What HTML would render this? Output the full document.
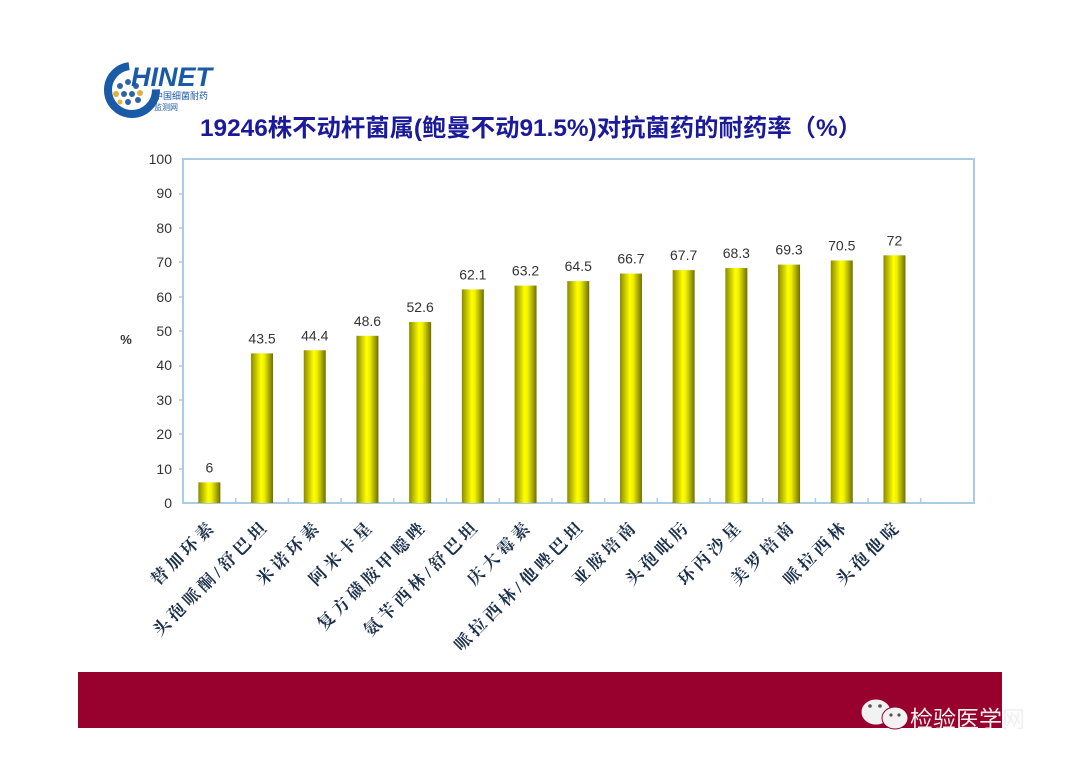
<!DOCTYPE html>
<html><head><meta charset="utf-8"><style>
html,body{margin:0;padding:0;background:#fff;}
svg{display:block;}
</style></head><body>
<svg width="1080" height="764" viewBox="0 0 1080 764" xmlns="http://www.w3.org/2000/svg">
<defs>
<linearGradient id="bg" x1="0" x2="1" y1="0" y2="0">
<stop offset="0" stop-color="#8a8a00"/>
<stop offset="0.45" stop-color="#ffff00"/>
<stop offset="0.6" stop-color="#f0f000"/>
<stop offset="1" stop-color="#6e6e00"/>
</linearGradient>
</defs>
<rect width="1080" height="764" fill="#fff"/>
<circle cx="132" cy="90" r="24" fill="none" stroke="#1b5aa6" stroke-width="8" stroke-dasharray="110 40"/>
<g fill="#2e63a8"><circle cx="120" cy="86" r="3"/><circle cx="128" cy="82" r="3"/><circle cx="136" cy="86" r="3"/><circle cx="124" cy="94" r="3"/><circle cx="132" cy="94" r="3"/><circle cx="128" cy="102" r="3"/><circle cx="138" cy="100" r="3"/></g>
<g fill="#e0b040"><circle cx="116" cy="94" r="3"/><circle cx="140" cy="93" r="3"/><circle cx="120" cy="102" r="2.5"/></g>
<text x="131" y="86" font-family="Liberation Sans, sans-serif" font-size="27" font-weight="bold" font-style="italic" fill="#1b5aa6">HINET</text>
<text x="154" y="99" font-family="Liberation Sans, 'Noto Sans CJK SC', sans-serif" font-size="9" fill="#1b5aa6">中国细菌耐药</text>
<text x="154" y="110" font-family="Liberation Sans, 'Noto Sans CJK SC', sans-serif" font-size="8" fill="#1b5aa6">监测网</text>
<text x="531" y="136" text-anchor="middle" font-family="Liberation Sans, 'Noto Sans CJK SC', sans-serif" font-size="24" font-weight="bold" fill="#1a1a9a" textLength="662" lengthAdjust="spacingAndGlyphs">19246株不动杆菌属(鲍曼不动91.5%)对抗菌药的耐药率（%）</text>
<rect x="183" y="159" width="791" height="344" fill="none" stroke="#a8cce4" stroke-width="2"/>
<g font-family="Liberation Sans, sans-serif" font-size="14" fill="#333" text-anchor="end">
<text x="172" y="508">0</text><text x="172" y="474">10</text><text x="172" y="439">20</text><text x="172" y="405">30</text><text x="172" y="370">40</text><text x="172" y="336">50</text><text x="172" y="302">60</text><text x="172" y="267">70</text><text x="172" y="233">80</text><text x="172" y="198">90</text><text x="172" y="164">100</text>
</g>
<g stroke="#a8cce4" stroke-width="1.5">
<line x1="179" y1="469" x2="183" y2="469"/><line x1="179" y1="434" x2="183" y2="434"/><line x1="179" y1="400" x2="183" y2="400"/><line x1="179" y1="366" x2="183" y2="366"/><line x1="179" y1="331" x2="183" y2="331"/><line x1="179" y1="297" x2="183" y2="297"/><line x1="179" y1="262" x2="183" y2="262"/><line x1="179" y1="228" x2="183" y2="228"/><line x1="179" y1="194" x2="183" y2="194"/>
</g>
<text x="126" y="344" text-anchor="middle" font-family="Liberation Sans, sans-serif" font-size="13" font-weight="bold" fill="#333">%</text>
<g id="bars"></g>
<g id="ticks" stroke="#a8cce4" stroke-width="1.5"></g>
<g id="vals" font-family="Liberation Sans, sans-serif" font-size="14" fill="#333" text-anchor="middle"></g>
<g id="labs" font-family="Liberation Serif, 'Noto Serif CJK SC', serif" font-size="17" font-weight="bold" fill="#1a2f4a" text-anchor="end" letter-spacing="4"></g>
<rect x="78" y="672" width="924" height="56" fill="#98002e"/>
<g fill="#f2f2f2" stroke="#98002e" stroke-width="1">
<ellipse cx="876" cy="712" rx="15" ry="13"/>
<ellipse cx="895" cy="718" rx="13" ry="11"/>
</g>
<g fill="#555"><circle cx="870" cy="706" r="1.8"/><circle cx="880" cy="706" r="1.8"/><circle cx="891" cy="715" r="1.6"/><circle cx="899" cy="715" r="1.6"/></g>
<text x="910" y="727" font-family="Liberation Sans, 'Noto Sans CJK SC', sans-serif" font-size="23" fill="#f0f0f0">检验医学网</text>
<script>
var v=[6,43.5,44.4,48.6,52.6,62.1,63.2,64.5,66.7,67.7,68.3,69.3,70.5,72];
var n=["替加环素","头孢哌酮/舒巴坦","米诺环素","阿米卡星","复方磺胺甲噁唑","氨苄西林/舒巴坦","庆大霉素","哌拉西林/他唑巴坦","亚胺培南","头孢吡肟","环丙沙星","美罗培南","哌拉西林","头孢他啶"];
var ns="http://www.w3.org/2000/svg",w=52.7,x0=183,y0=503,s=3.44;
function el(t,a,p,txt){var e=document.createElementNS(ns,t);for(var k in a)e.setAttribute(k,a[k]);if(txt)e.textContent=txt;document.getElementById(p).appendChild(e);}
for(var i=0;i<14;i++){var c=x0+w*(i+0.5),h=v[i]*s;
el("rect",{x:c-11,y:y0-h,width:22,height:h,fill:"url(#bg)"},"bars");
el("text",{x:c,y:y0-h-10},"vals",String(v[i]));
var lx=c+8,ly=527;el("text",{x:lx,y:ly,transform:"rotate(-45 "+lx+" "+ly+")"},"labs",n[i]);}
for(var i=1;i<=14;i++){var x=x0+w*i;el("line",{x1:x,y1:y0,x2:x,y2:y0-5},"ticks");}
</script>
</svg>
</body></html>
